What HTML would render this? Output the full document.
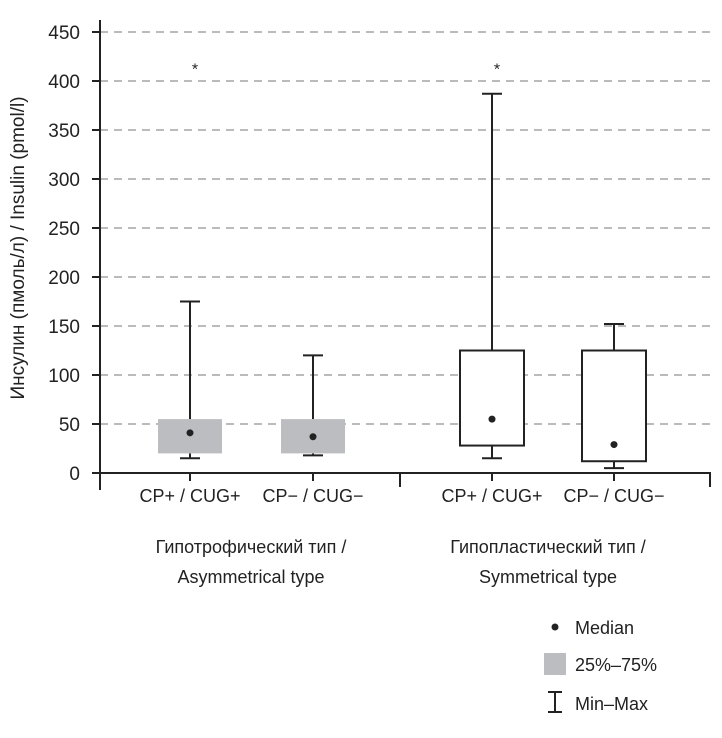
<!DOCTYPE html>
<html><head><meta charset="utf-8"><style>
body{margin:0;background:#fff;width:722px;height:733px;overflow:hidden}
text{font-family:"Liberation Sans","DejaVu Sans",sans-serif;fill:#222}
</style></head><body>
<svg id="chart" width="722" height="733" viewBox="0 0 722 733"></svg>
<script>
const categories=["CP+ / CUG+","CP− / CUG−","CP+ / CUG+","CP− / CUG−"];
const groupLabels=[["Гипотрофический тип /","Asymmetrical type"],["Гипопластический тип /","Symmetrical type"]];
const mins=[15,18,15,5];
const q1s=[20,20,28,12];
const medians=[41,37,55,29];
const q3s=[55,55,125,125];
const maxs=[175,120,387,152];
const outliers=[417,null,417,null];
const filled=[true,true,false,false];
const yTicks=[0,50,100,150,200,250,300,350,400,450];
const centers=[190,313,492,614];
const NS="http://www.w3.org/2000/svg";
const svg=document.getElementById('chart');
const y0=473,yScale=441/450;
const y=v=>y0-v*yScale;
function el(tag,attrs,parent){const e=document.createElementNS(NS,tag);for(const k in attrs)e.setAttribute(k,attrs[k]);(parent||svg).appendChild(e);return e;}
yTicks.forEach(t=>{
  if(t>0){const g=el('line',{x1:100,x2:712,y1:y(t),y2:y(t),stroke:'#bbb','stroke-width':2,'stroke-dasharray':'8,6'});
  
  }
  const tk=el('line',{x1:92,x2:100,y1:y(t),y2:y(t),stroke:'#222','stroke-width':2});
  
  
  const tx=el('text',{x:80,y:y(t)+7,'text-anchor':'end','font-size':19});
  tx.textContent=t;
  
  
});
const ax=el('line',{x1:100,x2:100,y1:20,y2:490,stroke:'#222','stroke-width':2});

const xa=el('line',{x1:92,x2:711,y1:y0,y2:y0,stroke:'#222','stroke-width':2});

[400,710].forEach(x=>{const l=el('line',{x1:x,x2:x,y1:y0,y2:y0+14,stroke:'#222','stroke-width':2});
});
const yt=el('text',{transform:'translate(24,248) rotate(-90)','text-anchor':'middle','font-size':19});
yt.textContent='Инсулин (пмоль/л) / Insulin (pmol/l)';

categories.forEach((c,i)=>{
  const cx=centers[i],w=64,hw=w/2;
  const g=el('g',{});
  
  
  el('line',{x1:cx,x2:cx,y1:y0,y2:y0+8,stroke:'#222','stroke-width':2},g);
  el('line',{x1:cx,x2:cx,y1:y(maxs[i]),y2:y(q3s[i]),stroke:'#222','stroke-width':2},g);
  el('line',{x1:cx,x2:cx,y1:y(q1s[i]),y2:y(mins[i]),stroke:'#222','stroke-width':2},g);
  el('line',{x1:cx-10,x2:cx+10,y1:y(maxs[i]),y2:y(maxs[i]),stroke:'#222','stroke-width':2},g);
  el('line',{x1:cx-10,x2:cx+10,y1:y(mins[i]),y2:y(mins[i]),stroke:'#222','stroke-width':2},g);
  if(filled[i]) el('rect',{x:cx-hw,y:y(q3s[i]),width:w,height:y(q1s[i])-y(q3s[i]),fill:'#bcbdc0'},g);
  else el('rect',{x:cx-hw,y:y(q3s[i]),width:w,height:y(q1s[i])-y(q3s[i]),fill:'#fff',stroke:'#222','stroke-width':2},g);
  el('circle',{cx:cx,cy:y(medians[i]),r:3.5,fill:'#222'},g);
  if(outliers[i]!=null){const o=el('text',{x:cx+5,y:y(outliers[i])+10,'text-anchor':'middle','font-size':16},g);o.textContent='*';}
  const t=el('text',{x:cx,y:502,'text-anchor':'middle','font-size':18});
  t.textContent=c;
  
  
});
[[251,groupLabels[0]],[548,groupLabels[1]]].forEach(([x,lines])=>{
  lines.forEach((s,j)=>{const t=el('text',{x:x,y:553+j*30,'text-anchor':'middle','font-size':18});t.textContent=s;
  });
});
const lg=el('g',{});


el('circle',{cx:555,cy:627,r:3.5,fill:'#222'},lg);
let t1=el('text',{x:575,y:634,'font-size':18},lg);t1.textContent='Median';
el('rect',{x:544,y:653,width:22,height:22,fill:'#bcbdc0'},lg);
let t2=el('text',{x:575,y:671,'font-size':18},lg);t2.textContent='25%–75%';
el('line',{x1:555,x2:555,y1:692,y2:712,stroke:'#222','stroke-width':2},lg);
el('line',{x1:548,x2:562,y1:692,y2:692,stroke:'#222','stroke-width':2},lg);
el('line',{x1:548,x2:562,y1:712,y2:712,stroke:'#222','stroke-width':2},lg);
let t3=el('text',{x:575,y:710,'font-size':18},lg);t3.textContent='Min–Max';
</script>
</body></html>
